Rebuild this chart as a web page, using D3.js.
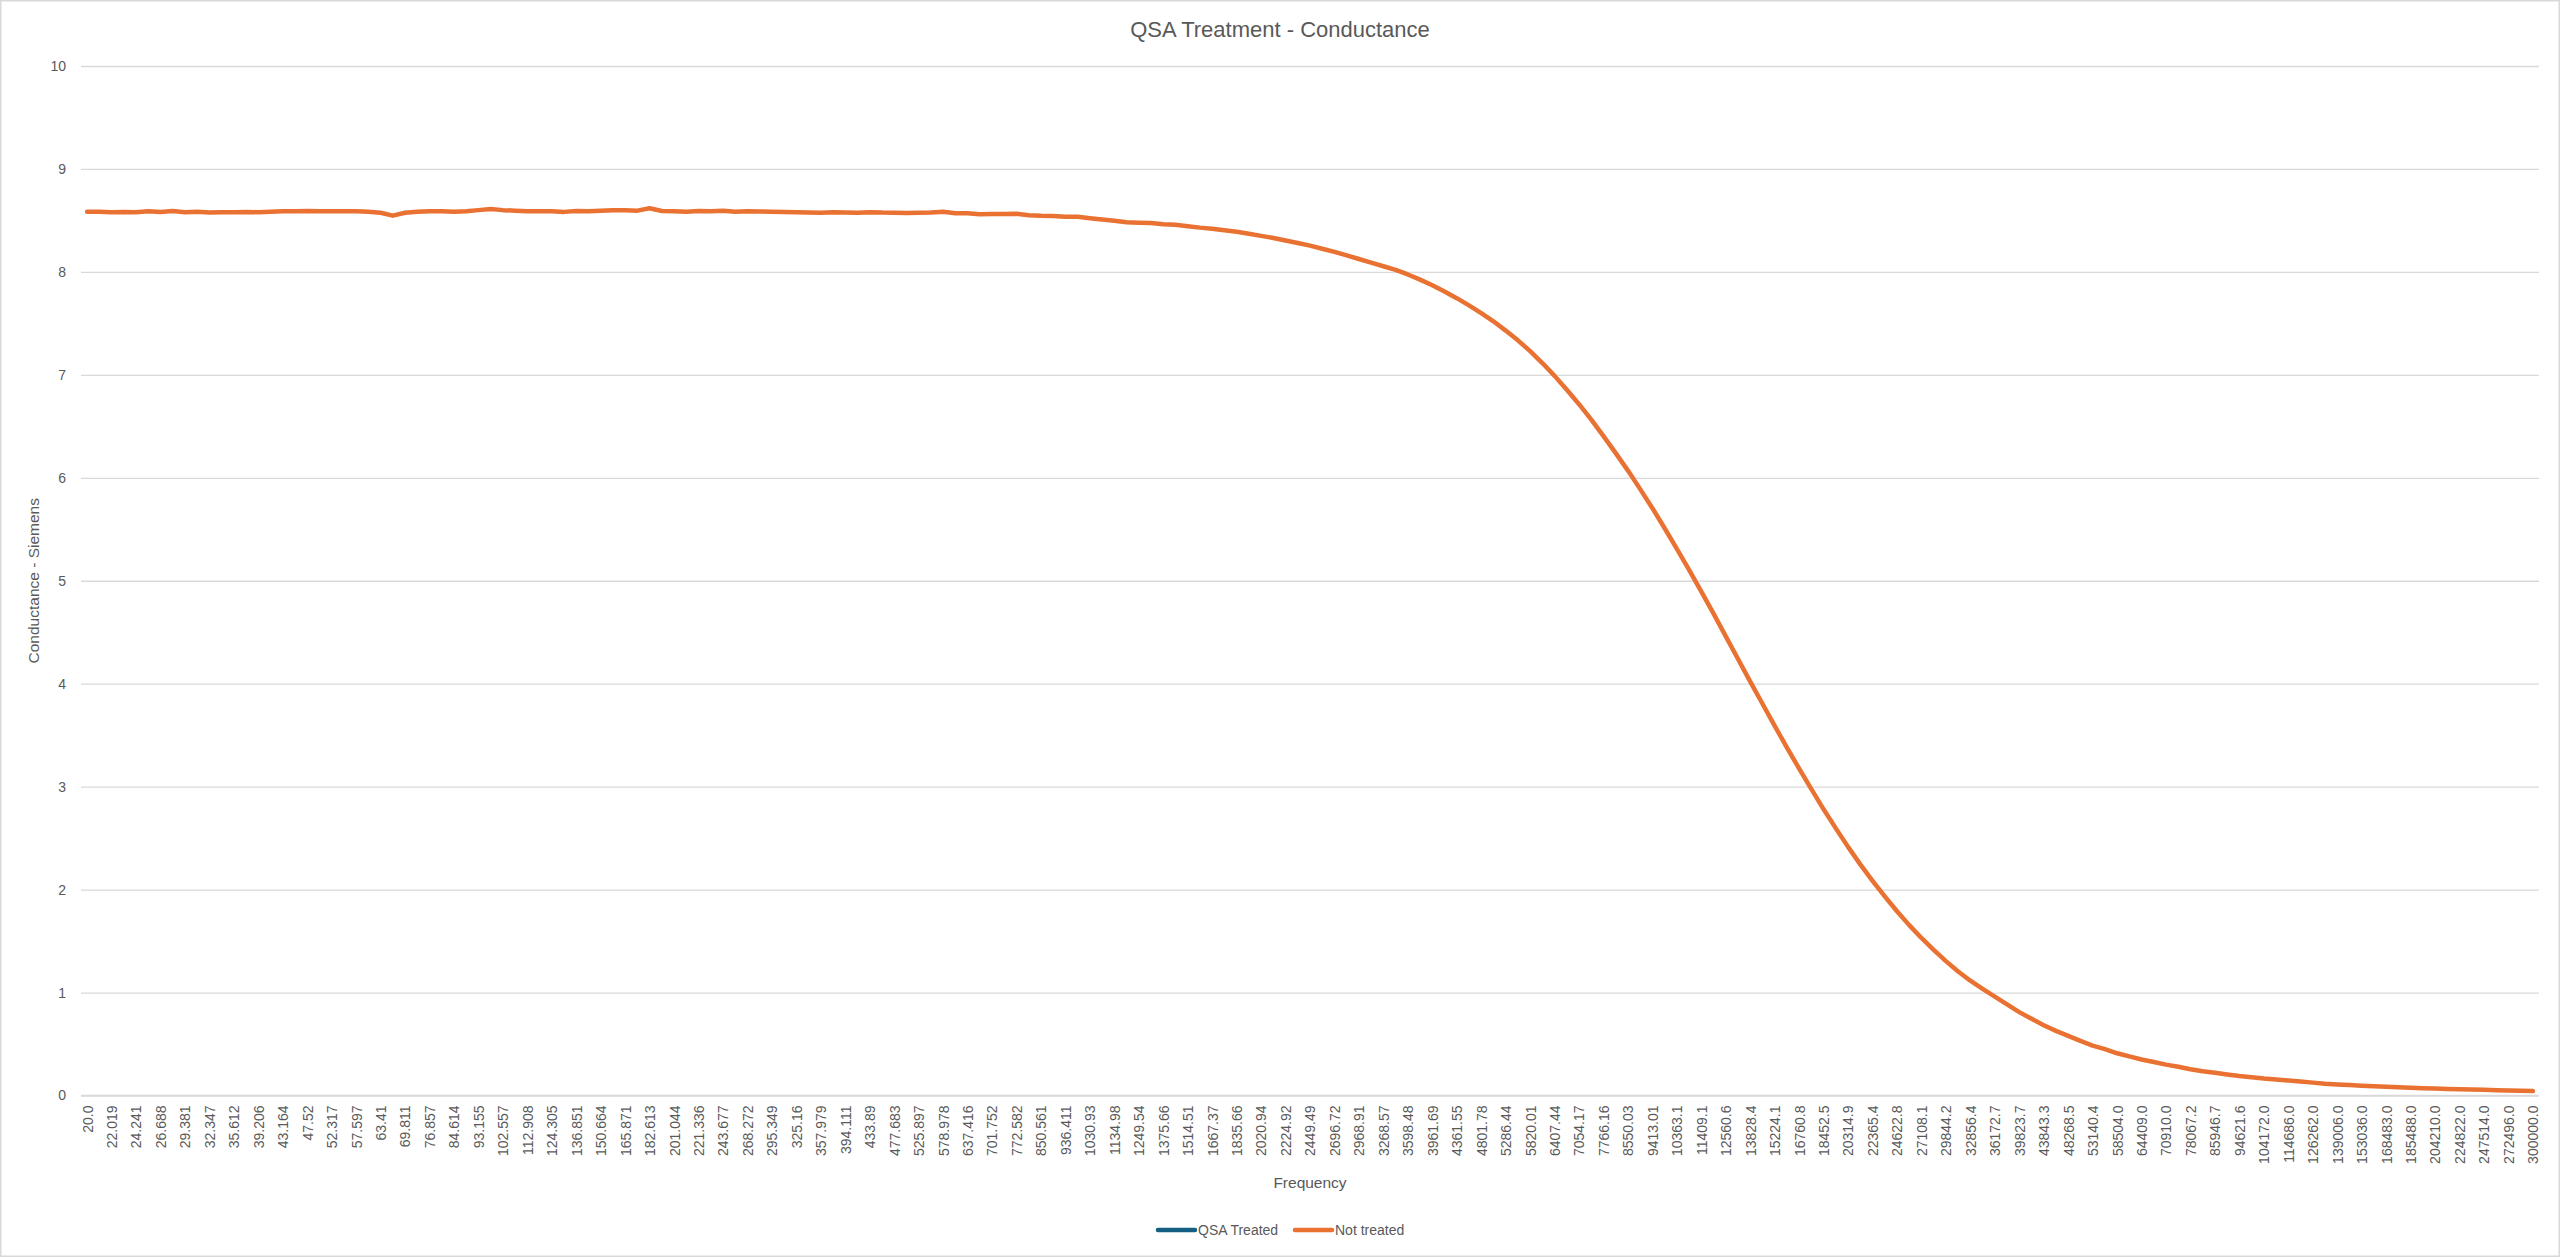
<!DOCTYPE html>
<html lang="en">
<head>
<meta charset="UTF-8">
<title>QSA Treatment - Conductance</title>
<script src="https://cdn.jsdelivr.net/npm/d3@7"></script>
<style>
  body { margin: 0; background: #fff; }
  text { font-family: "Liberation Sans", Arial, sans-serif; fill: #595959; }
</style>
</head>
<body>
<div id="chart"></div>
<script>
// visible frequency labels (every 2nd category is labelled on the axis)
var tickLabels = ["20.0","22.019","24.241","26.688","29.381","32.347","35.612","39.206","43.164","47.52",
  "52.317","57.597","63.41","69.811","76.857","84.614","93.155","102.557","112.908","124.305",
  "136.851","150.664","165.871","182.613","201.044","221.336","243.677","268.272","295.349","325.16",
  "357.979","394.111","433.89","477.683","525.897","578.978","637.416","701.752","772.582","850.561",
  "936.411","1030.93","1134.98","1249.54","1375.66","1514.51","1667.37","1835.66","2020.94","2224.92",
  "2449.49","2696.72","2968.91","3268.57","3598.48","3961.69","4361.55","4801.78","5286.44","5820.01",
  "6407.44","7054.17","7766.16","8550.03","9413.01","10363.1","11409.1","12560.6","13828.4","15224.1",
  "16760.8","18452.5","20314.9","22365.4","24622.8","27108.1","29844.2","32856.4","36172.7","39823.7",
  "43843.3","48268.5","53140.4","58504.0","64409.0","70910.0","78067.2","85946.7","94621.6","104172.0",
  "114686.0","126262.0","139006.0","153036.0","168483.0","185488.0","204210.0","224822.0","247514.0","272496.0",
  "300000.0"];

var yTicks = [0,1,2,3,4,5,6,7,8,9,10];

var seriesNames = ["QSA Treated", "Not treated"];

// QSA Treated shows no visible points in the chart
var qsaTreated = [];

// Not treated, 201 readings (Siemens)
var notTreated = [
  8.585,8.585,8.580,8.582,8.580,8.590,8.582,8.592,8.580,8.585,
  8.578,8.580,8.580,8.582,8.580,8.585,8.588,8.590,8.592,8.590,
  8.590,8.588,8.588,8.585,8.575,8.546,8.575,8.585,8.588,8.588,
  8.585,8.590,8.600,8.612,8.600,8.595,8.590,8.588,8.590,8.583,
  8.592,8.590,8.595,8.600,8.598,8.595,8.618,8.592,8.590,8.585,
  8.592,8.590,8.595,8.585,8.590,8.587,8.585,8.583,8.580,8.578,
  8.575,8.580,8.578,8.575,8.580,8.576,8.575,8.572,8.574,8.576,
  8.585,8.570,8.570,8.560,8.562,8.562,8.565,8.550,8.545,8.543,
  8.535,8.535,8.522,8.510,8.497,8.483,8.478,8.475,8.463,8.458,
  8.443,8.430,8.420,8.405,8.390,8.370,8.350,8.330,8.305,8.280,
  8.255,8.225,8.195,8.160,8.125,8.090,8.055,8.020,7.975,7.925,
  7.870,7.810,7.745,7.675,7.600,7.520,7.430,7.335,7.230,7.115,
  6.990,6.855,6.715,6.565,6.405,6.240,6.070,5.890,5.705,5.510,
  5.310,5.105,4.895,4.680,4.460,4.240,4.020,3.805,3.590,3.380,
  3.175,2.975,2.780,2.595,2.415,2.245,2.085,1.935,1.790,1.655,
  1.530,1.415,1.305,1.205,1.115,1.035,0.960,0.885,0.810,0.745,
  0.683,0.628,0.580,0.530,0.485,0.450,0.410,0.380,0.350,0.325,
  0.300,0.280,0.255,0.235,0.220,0.205,0.190,0.178,0.165,0.155,
  0.145,0.135,0.125,0.115,0.108,0.101,0.095,0.090,0.085,0.080,
  0.075,0.071,0.068,0.064,0.061,0.058,0.055,0.052,0.049,0.046,
  0.043];

var colors = ["#156082", "#E97132"];

var W = 2560, H = 1257;
var plotL = 81, plotR = 2539, plotT = 66, plotB = 1095.5;

var svg = d3.select("#chart").append("svg")
  .attr("width", W).attr("height", H);

svg.append("rect")
  .attr("x", 0.75).attr("y", 0.75)
  .attr("width", W - 1.5).attr("height", H - 1.5)
  .attr("fill", "#fff").attr("stroke", "#d9d9d9").attr("stroke-width", 1.5);

var xScale = d3.scalePoint()
  .domain(d3.range(notTreated.length))
  .range([plotL, plotR])
  .padding(0.5);

var yScale = d3.scaleLinear()
  .domain([0, 10])
  .range([plotB, plotT]);

// y axis + gridlines
var yAxis = d3.axisLeft(yScale)
  .tickValues(yTicks)
  .tickSize(-(plotR - plotL))
  .tickPadding(15);
var yg = svg.append("g").attr("transform", "translate(" + plotL + ",0)").call(yAxis);
yg.select(".domain").remove();
yg.selectAll("line").attr("stroke", "#d9d9d9").attr("stroke-width", 1.3);
yg.selectAll("text").style("font-size", "14px").style("fill", "#595959");

// x axis (label on every second category)
var labelled = d3.range(0, notTreated.length, 2);
var xAxis = d3.axisBottom(xScale)
  .tickValues(labelled)
  .tickFormat(function(d){ return tickLabels[d / 2]; })
  .tickSize(0)
  .tickSizeOuter(0);
var xg = svg.append("g").attr("transform", "translate(0," + plotB + ")").call(xAxis);
xg.select(".domain").attr("stroke", "#d9d9d9").attr("stroke-width", 1.3)
  .attr("d", "M" + plotL + ",0H" + plotR);
xg.selectAll("text")
  .attr("transform", "rotate(-90)")
  .attr("x", -10).attr("y", 0).attr("dy", "0.35em")
  .style("text-anchor", "end")
  .style("font-size", "14px").style("fill", "#595959");

// lines
var line = d3.line()
  .x(function(d, i){ return xScale(i); })
  .y(function(d){ return yScale(d); });

[qsaTreated, notTreated].forEach(function(s, k){
  if (!s.length) return;
  svg.append("path")
    .datum(s)
    .attr("d", line)
    .attr("fill", "none")
    .attr("stroke", colors[k])
    .attr("stroke-width", 4.5)
    .attr("stroke-linejoin", "round")
    .attr("stroke-linecap", "round");
});

// titles
svg.append("text")
  .attr("x", 1280).attr("y", 37)
  .attr("text-anchor", "middle")
  .style("font-size", "22px")
  .text("QSA Treatment - Conductance");

svg.append("text")
  .attr("x", (plotL + plotR) / 2).attr("y", 1188)
  .attr("text-anchor", "middle")
  .style("font-size", "15.5px")
  .text("Frequency");

svg.append("text")
  .attr("transform", "translate(39," + ((plotT + plotB) / 2) + ") rotate(-90)")
  .attr("text-anchor", "middle")
  .style("font-size", "15.5px")
  .text("Conductance - Siemens");

// legend
var legendX = [1158, 1295];
var lg = svg.append("g");
seriesNames.forEach(function(name, k){
  lg.append("line")
    .attr("x1", legendX[k]).attr("x2", legendX[k] + 37)
    .attr("y1", 1230).attr("y2", 1230)
    .attr("stroke", colors[k]).attr("stroke-width", 4.5)
    .attr("stroke-linecap", "round");
  lg.append("text")
    .attr("x", legendX[k] + 40).attr("y", 1230)
    .attr("dy", "0.35em")
    .style("font-size", "14px")
    .text(name);
});
</script>
</body>
</html>
